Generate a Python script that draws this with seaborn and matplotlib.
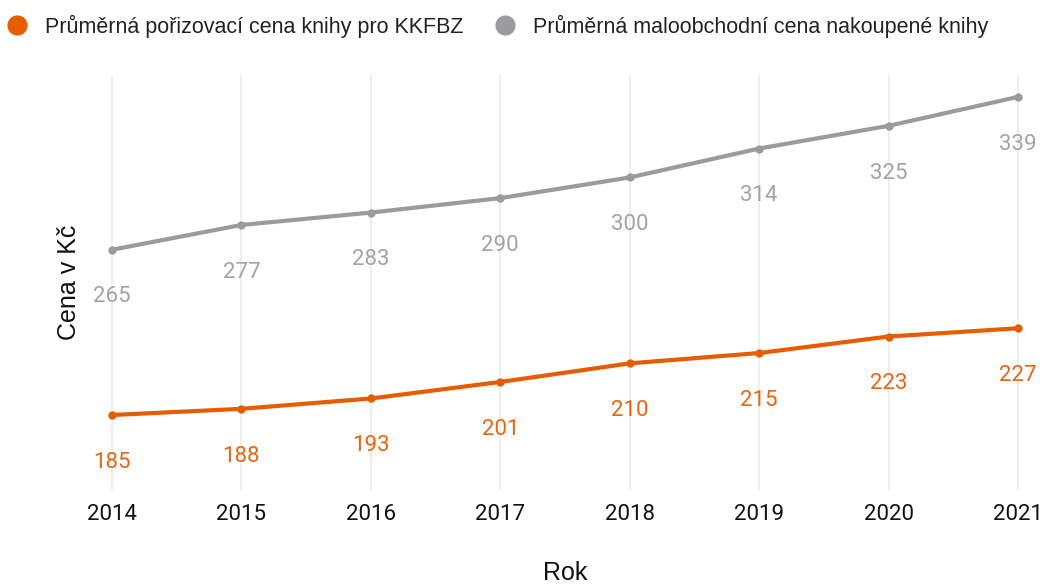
import pandas as pd
import matplotlib.pyplot as plt
import seaborn as sns

years = [2014, 2015, 2016, 2017, 2018, 2019, 2020, 2021]
kkfbz = [185, 188, 193, 201, 210, 215, 223, 227]
retail = [265, 277, 283, 290, 300, 314, 325, 339]
series_names = ["Průměrná pořizovací cena knihy pro KKFBZ",
                "Průměrná maloobchodní cena nakoupené knihy"]

df = pd.concat([
    pd.DataFrame({"rok": years, "cena": kkfbz, "serie": series_names[0]}),
    pd.DataFrame({"rok": years, "cena": retail, "serie": series_names[1]}),
])

line_colors = ["#E65C00", "#9B9B9D"]
text_colors = ["#E8650F", "#A3A3A3"]

sns.set_style("white")
plt.rcParams['font.family'] = ['Liberation Sans', 'DejaVu Sans']
num_font = ['Roboto', 'DejaVu Sans']

fig = plt.figure(figsize=(10.42, 5.87), dpi=100)
ax = fig.add_axes([95/1042, 1 - 490/587, (1035 - 95)/1042, (490 - 75)/587])

sns.lineplot(data=df, x="rok", y="cena", hue="serie", palette=line_colors,
             marker="o", markersize=6, markeredgewidth=0, linewidth=3,
             ax=ax, legend=False)

# labels under every point
for vals, c in zip([kkfbz, retail], text_colors):
    for x, v in zip(years, vals):
        ax.annotate(str(v), (x, v), xytext=(0, -34), textcoords="offset points",
                    ha="center", va="center", fontsize=16, color=c,
                    family=num_font)

ax.set_xlim(2013.869, 2021.131)
ax.set_ylim(148.7, 349.6)
ax.set_xticks(years)
ax.set_xticklabels([str(y) for y in years], fontsize=16, color="#111111",
                   family=num_font)
ax.set_yticks([])
ax.tick_params(axis="x", length=0, pad=10)
ax.grid(axis="x", color="#EBEBEB", linewidth=1.2)
ax.set_axisbelow(True)
for s in ax.spines.values():
    s.set_visible(False)

ax.set_xlabel("Rok", fontsize=18, color="#111111", labelpad=26)
ax.set_ylabel("Cena v Kč", fontsize=18, color="#111111", labelpad=10)

handles = [plt.Line2D([], [], marker="o", linestyle="", markersize=14.5,
                      markerfacecolor=c, markeredgewidth=0) for c in line_colors]
fig.legend(handles, series_names, loc="upper left", bbox_to_anchor=(-0.023, 1.008),
           ncol=2, frameon=False, fontsize=15.5, handletextpad=0.3,
           columnspacing=0.95, labelcolor="#222222")

fig.savefig("out.png", dpi=100)
